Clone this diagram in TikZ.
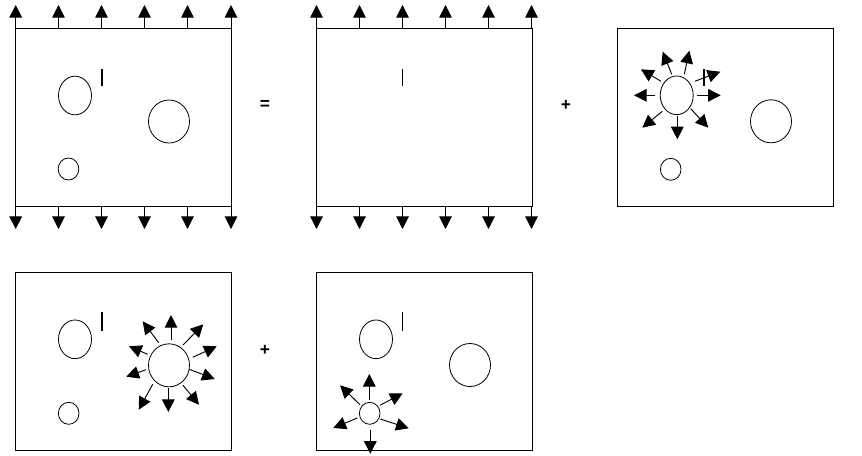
\documentclass[tikz,border=0pt]{standalone}
\usepackage{fontspec}
\setmainfont{Liberation Sans}
\usetikzlibrary{arrows.meta,shapes.geometric}
\tikzset{
	panel/.style={rectangle, draw, line width=0.75pt, inner sep=0pt, minimum width=162pt, minimum height=133.5pt},
	holebig/.style={ellipse, draw, line width=0.6pt, inner sep=0pt, minimum width=30.75pt, minimum height=32.25pt},
	holemid/.style={ellipse, draw, line width=0.6pt, inner sep=0pt, minimum width=24.75pt, minimum height=29pt},
	holesmall/.style={ellipse, draw, line width=0.6pt, inner sep=0pt, minimum width=15.5pt, minimum height=16.5pt},
	crack/.style={line width=1.2pt},
	pull/.style={line width=0.75pt, -{Triangle[length=9.5pt,width=9.5pt]}},
	burst/.style={line width=0.7pt, -{Triangle[length=9.5pt,width=9.5pt]}},
	sign/.style={font=\bfseries\fontsize{13pt}{13pt}\selectfont, inner sep=0pt}
}
\begin{document}
\begin{tikzpicture}[x=0.75pt,y=-0.75pt]
	\useasboundingbox (0,0) rectangle (862,455);

	% full plate
	\node[panel] (plateA) at (123.5,117.3) {};
	\node[holemid] (midA) at (75,95.5) {};
	\node[holebig] (bigA) at (169,121.5) {};
	\node[holesmall] (smallA) at (68.5,169) {};
	\draw[crack] (102,69) -- (102,86);
	\node[sign] (equals) at (265,105) {=};
	\foreach \x in {15.7,58.5,101.5,144.5,187.5,231}{
		\draw[pull] (\x,28.3) -- (\x,5);
		\draw[pull] (\x,206.3) -- (\x,229);
	}

	% crack only
	\node[panel] (plateB) at (424.5,117.3) {};
	\draw[crack] (402.5,69) -- (402.5,86);
	\node[sign] (plusB) at (566,105) {+};
	\foreach \x in {316.5,359.5,402.5,445.5,488.5,531.5}{
		\draw[pull] (\x,28.3) -- (\x,5);
		\draw[pull] (\x,206.3) -- (\x,229);
	}

	% loaded middle hole
	\node[panel] (plateC) at (725.3,117.3) {};
	\node[holemid] (midC) at (676.7,95.3) {};
	\node[holebig] (bigC) at (771,121.3) {};
	\node[holesmall] (smallC) at (670.7,169.3) {};
	\draw[crack] (704,68.7) -- (704,86);
	\draw[burst] (661,81.3) -- (641,69.3);
	\draw[burst] (671.7,74.3) -- (662.7,51.7);
	\draw[burst] (684.3,74.3) -- (689.3,50.7);
	\draw[burst] (694.7,81.3) -- (720.3,71.7);
	\draw[burst] (697.3,95.3) -- (720.7,95.3);
	\draw[burst] (690.7,108.7) -- (708.3,127.7);
	\draw[burst] (677.3,115.7) -- (677.3,139.3);
	\draw[burst] (662.3,111.3) -- (642.3,127.7);
	\draw[burst] (655.3,95.3) -- (634,95.3);

	% loaded big hole
	\node[panel] (plateD) at (123.5,361.2) {};
	\node[holemid] (midD) at (75,339.3) {};
	\node[holebig] (bigD) at (169,365.3) {};
	\node[holesmall] (smallD) at (68.7,413.3) {};
	\draw[crack] (102,312) -- (102,330.7);
	\node[sign] (plusD) at (265,350.3) {+};
	\draw[burst] (171,340) -- (171,315);
	\draw[burst] (183,345) -- (203.3,324.3);
	\draw[burst] (192.7,357.3) -- (216.7,346.3);
	\draw[burst] (189.3,369.3) -- (214.7,379);
	\draw[burst] (183,385.3) -- (199,404.7);
	\draw[burst] (168.3,388.3) -- (168.3,412);
	\draw[burst] (152.7,384.3) -- (138.7,409.7);
	\draw[burst] (146,369.7) -- (126.3,376.7);
	\draw[burst] (147.7,354.3) -- (129,346.3);
	\draw[burst] (158.7,342.7) -- (142.7,321.3);

	% loaded small hole
	\node[panel] (plateE) at (424.4,361.2) {};
	\node[holemid] (midE) at (376,339.3) {};
	\node[holebig] (bigE) at (470,365) {};
	\node[holesmall] (smallE) at (369.7,413.3) {};
	\draw[crack] (402.3,312) -- (402.3,331);
	\draw[burst] (369.3,400) -- (369.3,374);
	\draw[burst] (380,405.3) -- (402.7,393.3);
	\draw[burst] (380.3,419) -- (408.7,428.3);
	\draw[burst] (370.3,430) -- (370.3,453.7);
	\draw[burst] (357.3,418) -- (333.3,428);
	\draw[burst] (360,404.7) -- (340,385.3);
\end{tikzpicture}
\end{document}
